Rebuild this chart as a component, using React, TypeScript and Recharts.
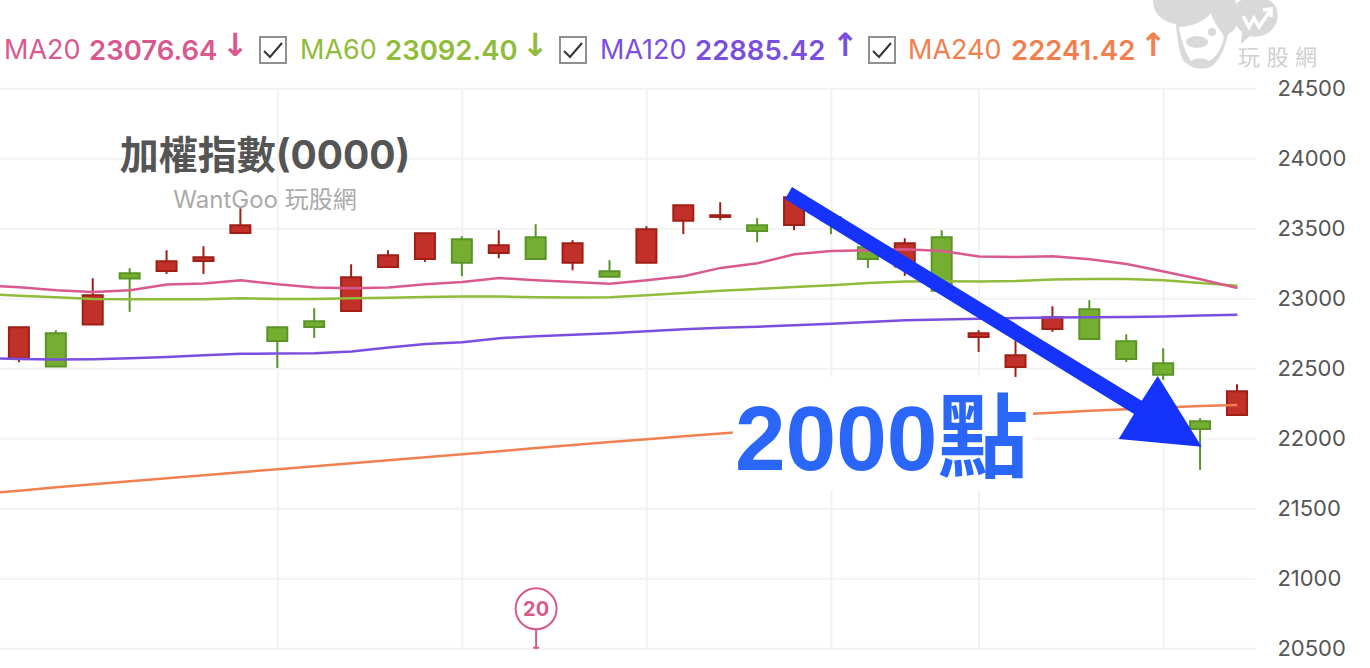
import React from 'react';
import { ComposedChart, Bar, Line, XAxis, YAxis, CartesianGrid, Cell, ReferenceDot } from 'recharts';

const days = ['1','2','3','4','5','6','7','8','9','10','11','12','13','14','15','16','17','18','19','20','21','22','23','24','25','26','27','28','29','30','31','32','33','34','35'];
const gridDays = ['9', '14', '19', '24', '28', '33'];
const yTicks = [20500, 21000, 21500, 22000, 22500, 23000, 23500, 24000, 24500];

// first session sits off the left edge, only its MA values are visible
const opens = [null,22573,22753,22816,23182,23198,23270,23470,22796,22839,22913,23227,23284,23425,23327,23439,23256,23196,23256,23556,23584,23525,23527,23582,23368,23230,23439,22727,22513,22784,22925,22696,22539,22125,22170];
const closes = [null,22796,22516,23025,23144,23268,23296,23525,22698,22798,23153,23311,23468,23256,23382,23284,23396,23156,23496,23668,23596,23484,23725,23561,23284,23396,23056,22753,22596,22868,22713,22570,22456,22070,22339];
const highs = [null,22796,22775,23146,23218,23346,23375,23646,22796,22932,23246,23346,23468,23446,23489,23532,23418,23275,23518,23668,23689,23575,23747,23597,23407,23432,23489,22775,22703,22946,22989,22746,22646,22146,22389];
const lows = [null,22546,22516,22816,22906,23177,23177,23470,22506,22720,22913,23227,23263,23161,23289,23284,23203,23156,23256,23461,23561,23403,23489,23461,23220,23163,23056,22620,22441,22763,22713,22548,22420,21777,22170];

const ma20 = [23096,23082,23061,23048,23061,23101,23108,23132,23103,23080,23075,23080,23103,23120,23148,23132,23120,23106,23132,23161,23220,23253,23318,23341,23346,23353,23341,23301,23298,23303,23282,23248,23194,23139,23076.64];
const ma60 = [23036,23021,23011,22998,22996,22996,22996,23003,22998,22998,23003,23006,23013,23016,23016,23011,23008,23011,23025,23041,23056,23070,23084,23096,23113,23123,23125,23123,23127,23137,23141,23141,23132,23113,23092.4];
const ma120 = [22575,22569,22566,22568,22575,22584,22596,22606,22608,22611,22623,22651,22677,22689,22718,22732,22743,22753,22768,22782,22793,22800,22811,22821,22834,22846,22851,22856,22863,22866,22868,22870,22873,22880,22885.42];
const ma240 = [21607,21628,21653,21675,21696,21718,21739,21761,21782,21803,21825,21846,21868,21889,21911,21934,21955,21976,21996,22018,22038,22057,22075,22093,22107,22121,22139,22157,22173,22186,22199,22211,22222,22233,22241.42];

const maNames = ['MA20', 'MA60', 'MA120', 'MA240'];
const maLast = ['23076.64', '23092.40', '22885.42', '22241.42'];
const maArrows = ['↓', '↓', '↑', '↑'];
const maColors = ['#d9598f', '#8fbc3a', '#7a4fe0', '#f0804f'];
const nameX = [4, 300, 600, 908];
const valueX = [89, 385, 695, 1011];
const arrowX = [222, 522, 832, 1140];
const checkX = [260, 560, 869];

const data = days.map((day, i) => ({
  day,
  body: opens[i] === null ? null : [opens[i], closes[i]],
  wick: lows[i] === null ? null : [lows[i], highs[i]],
  up: opens[i] !== null && closes[i] > opens[i],
  ma20: ma20[i],
  ma60: ma60[i],
  ma120: ma120[i],
  ma240: ma240[i],
}));

const RED = '#c1312a';
const RED_EDGE = '#a01e15';
const GREEN = '#76ae31';
const GREEN_EDGE = '#5a9426';
const UI_FONT = 'Inter, "Noto Sans CJK TC", sans-serif';

const Pin = ({ cx, cy }: any) => (
  <g>
    <line x1={cx} x2={cx} y1={cy - 20} y2={cy} stroke="#d9598f" strokeWidth={2} />
    <circle cx={cx} cy={cy - 40} r={20.5} fill="#fff" stroke="#d9598f" strokeWidth={2} />
    <rect x={cx - 3} y={cy - 2} width={6} height={2} fill="#d9598f" />
    <text x={cx} y={cy - 33} textAnchor="middle" fontSize={20} fontWeight={700} fill="#d9598f" fontFamily={UI_FONT}>20</text>
  </g>
);

const Watermark = () => (
  <g fill="#d9d9d9">
    <path d="M1153 0 C1153 14 1163 22 1176 24 C1177 40 1180 54 1183 60 C1190 69 1204 71 1212 66 C1220 60 1226 45 1228 34 C1238 30 1241 18 1235 0 Z" />
    <path d="M1179 27 C1190 27 1204 22 1211 13 C1214 24 1221 30 1224 37 C1222 48 1216 58 1209 61 C1203 57 1196 58 1191 61 C1185 52 1181 40 1179 27 Z" fill="#fff" />
    <ellipse cx="1197" cy="42" rx="11" ry="6" />
    <circle cx="1212" cy="32" r="4" />
    <path d="M1234 8 C1238 -6 1272 -8 1277 10 C1281 26 1266 40 1250 36 L1241 44 L1242 32 C1235 26 1232 18 1234 8 Z" />
    <path d="M1243 16 L1249 27 L1254 18 L1259 27 L1270 11 M1263 10 L1271 9 L1271 17" fill="none" stroke="#fff" strokeWidth={3.5} />
    <text x="1238" y="65" fontSize="22" fill="#cfcfcf" letterSpacing="6.5" fontFamily={UI_FONT}>玩股網</text>
  </g>
);

const Annotations = () => (
  <svg width={1370} height={668} style={{ position: 'absolute', left: 0, top: 0 }}>
    <Watermark />
    <text x={265} y={169} textAnchor="middle" fontSize={39} fontWeight={700} fill="#555" fontFamily={UI_FONT}>加權指數(0000)</text>
    <text x={265} y={208} textAnchor="middle" fontSize={24} fill="#aaa" fontFamily={UI_FONT}>WantGoo 玩股網</text>
    {checkX.map((x) => (
      <g key={x}>
        <rect x={x} y={37} width={26} height={26} fill="#fff" stroke="#8f8f8f" strokeWidth={2} />
        <path d={`M${x + 4} ${51} L${x + 10} ${57} L${x + 22} ${43}`} fill="none" stroke="#333" strokeWidth={2} />
      </g>
    ))}
    <rect x={733} y={377} width={300} height={113} fill="#fff" />
    <text x={735} y={470} fontSize={91} fontWeight={700} fill="#2a66f8" fontFamily='"Liberation Sans", "Noto Sans CJK TC", sans-serif'>2000點</text>
    <polygon points="792,187 1141.7,400.7 1157.7,376 1201.7,446.7 1118.7,439 1134,414 785,199" fill="#1533fb" />
  </svg>
);

const App = () => {
  return (
    <div style={{ position: 'absolute', left: 0, top: 0, width: 1370, height: 668, overflow: 'hidden', background: '#fff' }}>
      <div style={{ position: 'absolute', left: -36.4, top: 0 }}>
        <ComposedChart width={1406.4} height={668} data={data} margin={{ top: 88.7, right: 0, bottom: 19.3, left: 0 }}>
          <CartesianGrid xAxisId="body" stroke="#f2f2f2" strokeWidth={2} syncWithTicks />
          <XAxis xAxisId="body" dataKey="day" hide ticks={gridDays} interval={0} />
          <XAxis xAxisId="wick" dataKey="day" hide />
          <YAxis
            orientation="right"
            width={114.5}
            domain={[20500, 24500]}
            ticks={yTicks}
            interval={0}
            axisLine={false}
            tickLine={false}
            tickSize={0}
            tickMargin={21.5}
            dy={-1}
            tick={{ fill: '#555', fontSize: 22, fontFamily: UI_FONT }}
          />
          <Bar xAxisId="wick" dataKey="wick" barSize={2} isAnimationActive={false}>
            {data.map((d) => (
              <Cell key={d.day} fill={d.up ? RED_EDGE : GREEN_EDGE} />
            ))}
          </Bar>
          <Bar xAxisId="body" dataKey="body" barSize={20} isAnimationActive={false}>
            {data.map((d) => (
              <Cell key={d.day} fill={d.up ? RED : GREEN} stroke={d.up ? RED_EDGE : GREEN_EDGE} strokeWidth={2} />
            ))}
          </Bar>
          <Line xAxisId="body" dataKey="ma240" stroke={maColors[3]} strokeWidth={2.5} dot={false} isAnimationActive={false} />
          <Line xAxisId="body" dataKey="ma120" stroke={maColors[2]} strokeWidth={2.5} dot={false} isAnimationActive={false} />
          <Line xAxisId="body" dataKey="ma60" stroke={maColors[1]} strokeWidth={2.5} dot={false} isAnimationActive={false} />
          <Line xAxisId="body" dataKey="ma20" stroke={maColors[0]} strokeWidth={2.5} dot={false} isAnimationActive={false} />
          <ReferenceDot xAxisId="body" x="16" y={20500} ifOverflow="visible" shape={<Pin />} />
        </ComposedChart>
      </div>
      <Annotations />
      {maNames.map((name, i) => (
        <React.Fragment key={name}>
          <span style={{ position: 'absolute', left: nameX[i], top: 34, fontSize: 27, color: maColors[i], fontFamily: UI_FONT, lineHeight: '32px' }}>{name}</span>
          <span style={{ position: 'absolute', left: valueX[i], top: 34, fontSize: 27.5, fontWeight: 600, color: maColors[i], fontFamily: UI_FONT, lineHeight: '32px' }}>{maLast[i]}</span>
          <span style={{ position: 'absolute', left: arrowX[i], top: 29, fontSize: 32, fontWeight: 700, color: maColors[i], fontFamily: '"DejaVu Sans"', lineHeight: '32px' }}>{maArrows[i]}</span>
        </React.Fragment>
      ))}
    </div>
  );
};

export default App;
